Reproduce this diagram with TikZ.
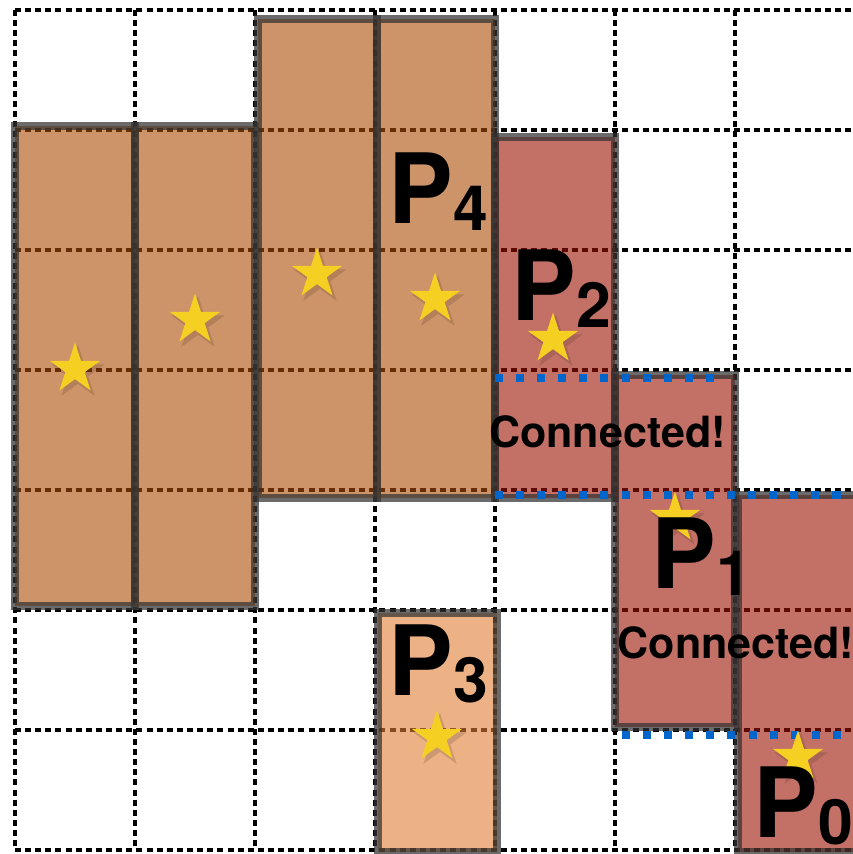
\documentclass[tikz,border=0pt]{standalone}
\usepackage{fontspec}
\setmainfont{TeX Gyre Heros}
\usetikzlibrary{shapes.geometric}
\definecolor{pcore}{RGB}{172,75,5}
\definecolor{pred}{RGB}{155,17,0}
\definecolor{plight}{RGB}{223,125,52}
\definecolor{bordergray}{RGB}{50,50,50}
\definecolor{starcol}{RGB}{245,208,35}
\definecolor{linkblue}{RGB}{0,102,204}
\begin{document}
\begin{tikzpicture}[x=0.0083333cm,y=-0.0083333cm,
  gridline/.style={line width=0.8pt,dash pattern=on 1.4pt off 1.0pt},
  block/.style={fill opacity=0.6, draw=bordergray, draw opacity=0.72, line width=1.9pt},
  starmark/.style={star, star points=5, star point ratio=2.618, minimum size=0.4417cm, inner sep=0pt, fill=starcol, draw=none},
  starshade/.style={star, star points=5, star point ratio=2.618, minimum size=0.47cm, inner sep=0pt, fill=black!70!brown, fill opacity=0.18, draw=none},
  link/.style={draw=linkblue, line width=1.9pt, dash pattern=on 1.9pt off 3.1pt},
  plabel/.style={inner sep=0pt, anchor=base west, font=\bfseries\fontsize{23}{23}\selectfont},
  conn/.style={inner sep=0pt, anchor=base, font=\bfseries\fontsize{10.2}{10.2}\selectfont}]
\useasboundingbox (0,0) rectangle (853,854);
\clip (0,0) rectangle (853,854);
% grid
\foreach \x in {15,135,...,735} \draw[gridline] (\x,10) -- (\x,850);
\foreach \y in {10,130,...,850} \draw[gridline] (15,\y) -- (853,\y);
% blocks
\path[block, fill=pcore] (15,126) rectangle (135,606);
\path[block, fill=pcore] (135,126) rectangle (255,606);
\path[block, fill=pcore] (258,19) rectangle (377,498);
\path[block, fill=pcore] (377,19) rectangle (495,498);
\path[block, fill=pred] (495,137) rectangle (615,498);
\path[block, fill=plight] (378,613) rectangle (497,852);
\path[block, fill=pred] (615,375) rectangle (735,727);
\path[block, fill=pred] (738,495) rectangle (862,852);
% links
\coordinate (l1a) at (495,378); \coordinate (l1b) at (720,378);
\coordinate (l2a) at (495,495); \coordinate (l2b) at (853,495);
\coordinate (l3a) at (622,735); \coordinate (l3b) at (853,735);
\draw[link] (l1a) -- (l1b);
\draw[link] (l2a) -- (l2b);
\draw[link] (l3a) -- (l3b);
% stars
\foreach \n/\sx/\sy in {a/75/369,b/195/320,c/317/274,d/435/299,e/553/339,f/675/518,g/437/737,h/798/757}{
  \node[starshade] (sh\n) at (\sx+3,\sy+4) {};
  \node[starmark] (st\n) at (\sx,\sy) {};
}
% labels
\node[plabel] (p4) at (388,223) {P\raisebox{-1.8pt}{\fontsize{14.8}{14.8}\selectfont 4}};
\node[plabel] (p2) at (511,320) {P\raisebox{-1.7pt}{\fontsize{14.8}{14.8}\selectfont 2}};
\node[plabel] (p1) at (651,588) {P\raisebox{-1.7pt}{\fontsize{14.8}{14.8}\selectfont 1}};
\node[plabel] (p3) at (388,695) {P\raisebox{-1.7pt}{\fontsize{14.8}{14.8}\selectfont 3}};
\node[plabel] (p0) at (753,837) {P\raisebox{-1.8pt}{\fontsize{14.8}{14.8}\selectfont 0}};
\node[conn] (c1) at (607.5,447) {Connected!};
\node[conn] (c2) at (736,658) {Connected!};
\end{tikzpicture}
\end{document}
